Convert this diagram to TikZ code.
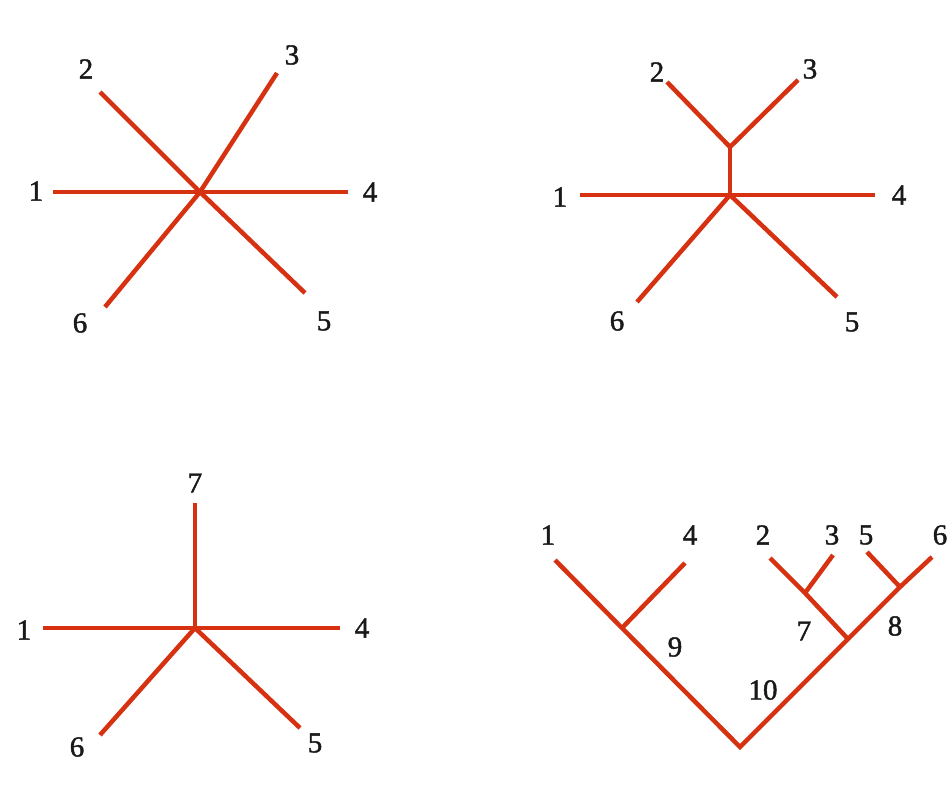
\documentclass[tikz,border=0pt]{standalone}
\usepackage{fontspec}
\setmainfont{Liberation Serif}
\newfontfamily\digitfont{Liberation Serif}[FakeBold=1.5]
\definecolor{branchred}{RGB}{214,50,18}
\begin{document}
\begin{tikzpicture}[x=1pt, y=-1pt,
    branch/.style={draw=branchred, line width=4.5pt},
    lbl/.style={font=\digitfont\fontsize{29}{31}\selectfont, text=black!90, inner sep=0pt}]

    \useasboundingbox (0,0) rectangle (949,805);

    % Star tree, six leaves (top left)
    \coordinate (a0) at (200,192);
    \coordinate (a1) at (53,192);
    \coordinate (a2) at (100,92);
    \coordinate (a3) at (277,73);
    \coordinate (a4) at (348,192);
    \coordinate (a5) at (305,293);
    \coordinate (a6) at (105,307);
    \draw[branch] (a1) -- (a4);
    \draw[branch] (a2) -- (a0) -- (a5);
    \draw[branch] (a3) -- (a0) -- (a6);
    \node[lbl] (la1) at (36,191) {1};
    \node[lbl] (la2) at (86,69) {2};
    \node[lbl] (la3) at (292,55) {3};
    \node[lbl] (la4) at (370,192) {4};
    \node[lbl] (la5) at (324,321) {5};
    \node[lbl] (la6) at (80,323) {6};

    % Star with 2 and 3 joined (top right)
    \coordinate (b0) at (730,195);
    \coordinate (bu) at (730,147);
    \coordinate (b1) at (580,195);
    \coordinate (b2) at (667,82);
    \coordinate (b3) at (798,80);
    \coordinate (b4) at (875,195);
    \coordinate (b5) at (837,297);
    \coordinate (b6) at (637,302);
    \draw[branch] (b1) -- (b4);
    \draw[branch] (b0) -- (bu);
    \draw[branch] (b2) -- (bu) -- (b3);
    \draw[branch] (b6) -- (b0) -- (b5);
    \node[lbl] (lb1) at (560,197) {1};
    \node[lbl] (lb2) at (657,72) {2};
    \node[lbl] (lb3) at (810,69) {3};
    \node[lbl] (lb4) at (899,195) {4};
    \node[lbl] (lb5) at (852,322) {5};
    \node[lbl] (lb6) at (617,321) {6};

    % Star with new node 7 (bottom left)
    \coordinate (c0) at (195,628);
    \coordinate (c1) at (43,628);
    \coordinate (c4) at (340,628);
    \coordinate (c5) at (300,728);
    \coordinate (c6) at (100,735);
    \coordinate (c7) at (195,503);
    \draw[branch] (c1) -- (c4);
    \draw[branch] (c0) -- (c7);
    \draw[branch] (c6) -- (c0) -- (c5);
    \node[lbl] (lc1) at (24,630) {1};
    \node[lbl] (lc4) at (362,628) {4};
    \node[lbl] (lc5) at (315,743) {5};
    \node[lbl] (lc6) at (77,747) {6};
    \node[lbl] (lc7) at (195,483) {7};

    % Rooted tree (bottom right)
    \coordinate (root) at (740,747);
    \coordinate (n9) at (622,628);
    \coordinate (n10) at (848,639);
    \coordinate (n7) at (805,593);
    \coordinate (n8) at (900,587);
    \coordinate (d1) at (555,560);
    \coordinate (d2) at (770,558);
    \coordinate (d3) at (833,555);
    \coordinate (d4) at (685,563);
    \coordinate (d5) at (867,552);
    \coordinate (d6) at (932,557);
    \draw[branch] (d1) -- (n9) -- (root) -- (n10) -- (n8) -- (d6);
    \draw[branch] (n9) -- (d4);
    \draw[branch] (n10) -- (n7) -- (d2);
    \draw[branch] (n7) -- (d3);
    \draw[branch] (n8) -- (d5);
    \node[lbl] (ld1) at (548,535) {1};
    \node[lbl] (ld4) at (690,535) {4};
    \node[lbl] (ld2) at (763,535) {2};
    \node[lbl] (ld3) at (832,535) {3};
    \node[lbl] (ld5) at (866,535) {5};
    \node[lbl] (ld6) at (940,535) {6};
    \node[lbl] (ld9) at (675,647) {9};
    \node[lbl] (ld7) at (804,631) {7};
    \node[lbl] (ld8) at (895,626) {8};
    \node[lbl] (ld10) at (763,690) {10};

\end{tikzpicture}
\end{document}
